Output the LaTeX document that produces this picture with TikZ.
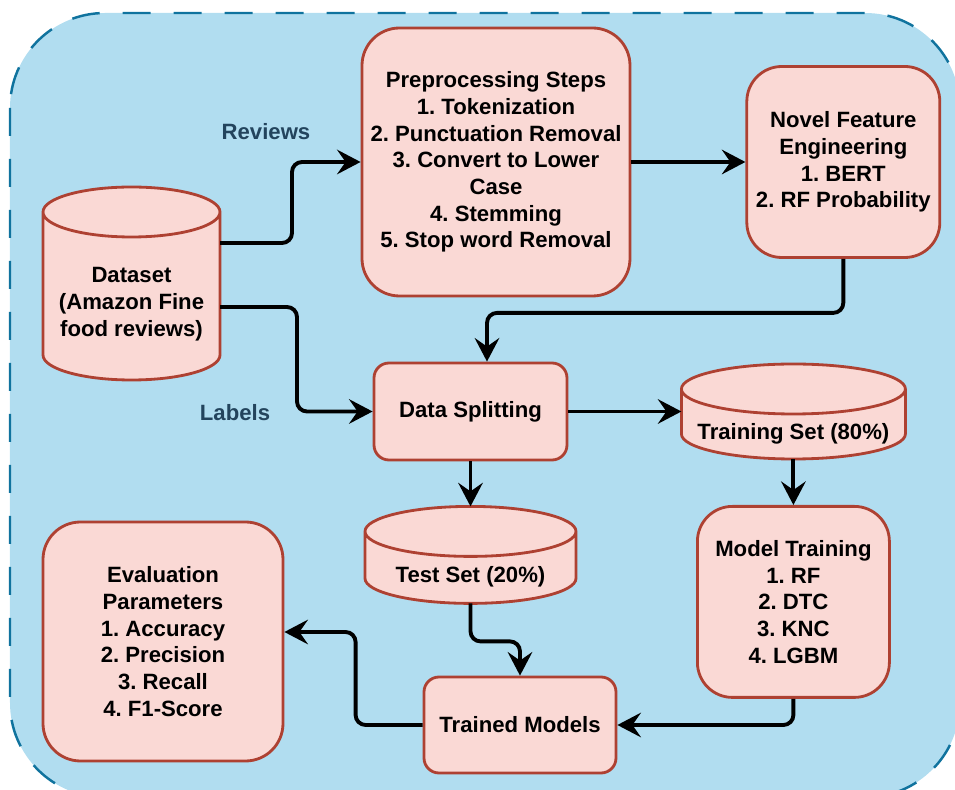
\documentclass[tikz,border=0pt]{standalone}
\usepackage{fontspec}
\setmainfont{Liberation Sans}
\frenchspacing
\usetikzlibrary{shapes.geometric, arrows.meta, positioning, calc, backgrounds}
\definecolor{boxfill}{HTML}{FAD9D5}
\definecolor{boxline}{HTML}{AE4132}
\definecolor{areafill}{HTML}{B1DDF0}
\definecolor{arealine}{HTML}{10739E}
\definecolor{tagtext}{HTML}{23445D}
\tikzstyle{box} = [rectangle, rounded corners=0.75cm, text centered, align=center, draw=boxline, fill=boxfill, line width=1.6pt, font=\bfseries\fontsize{12.6}{15.2}\selectfont]
\tikzstyle{smallbox} = [box, rounded corners=0.3cm]
\tikzstyle{db} = [rectangle, inner sep=0pt, outer sep=0pt]
\tikzstyle{dbline} = [draw=boxline, fill=boxfill, line width=1.6pt]
\tikzstyle{dbtext} = [font=\bfseries\fontsize{12.6}{15.2}\selectfont, align=center]
\tikzstyle{tag} = [text=tagtext, font=\bfseries\fontsize{12.6}{15.2}\selectfont]
\tikzstyle{arrow} = [line width=2.2pt, -{Stealth[length=0.47cm, width=0.49cm, inset=0.17cm]}, rounded corners=0.2cm]
% cilindro dibujado detras del nodo #1
\newcommand{\dbshape}[1]{%
    \path [dbline] let \p1 = ($(#1.east)-(#1.west)$) in
        ([yshift=-0.5cm]#1.north west) -- ([yshift=0.5cm]#1.south west)
        arc[start angle=180, end angle=360, x radius=0.5*\x1, y radius=0.5cm]
        -- ([yshift=-0.5cm]#1.north east)
        arc[start angle=0, end angle=180, x radius=0.5*\x1, y radius=0.5cm] -- cycle
        ([yshift=-0.5cm]#1.north west)
        arc[start angle=180, end angle=360, x radius=0.5*\x1, y radius=0.5cm];
}

\begin{document}
\begin{tikzpicture}
    \useasboundingbox (0,0) rectangle (19.1,-15.8);

    \node (dataset) [db, minimum width=3.54cm, minimum height=3.86cm,
        label={[dbtext, yshift=-0.41cm]center:Dataset\\(Amazon Fine\\food reviews)}] at (2.63,-5.67) {};
    \node (preproc) [box, minimum width=5.36cm, minimum height=5.36cm] at (9.92,-3.24)
        {Preprocessing Steps\\1. Tokenization\\2. Punctuation Removal\\3. Convert to Lower\\Case\\4. Stemming\\5. Stop word Removal};
    \node (novel) [box, right=2.28cm of preproc, minimum width=3.86cm, minimum height=3.82cm, rounded corners=0.7cm]
        {Novel Feature\\Engineering\\1. BERT\\2. RF Probability};
    \node (split) [smallbox, minimum width=3.86cm, minimum height=1.94cm] at (9.41,-8.23) {Data Splitting};
    \node (trainset) [db, right=2.26cm of split, minimum width=4.48cm, minimum height=1.9cm,
        label={[dbtext, yshift=-0.45cm]center:Training Set (80\%)}] {};
    \node (testset) [db, below=0.9cm of split, minimum width=4.22cm, minimum height=1.94cm,
        label={[dbtext, yshift=-0.43cm]center:Test Set (20\%)}] {};
    \node (modeltrain) [box, below=0.92cm of trainset, minimum width=3.84cm, minimum height=3.82cm, rounded corners=0.7cm]
        {Model Training\\1. RF\\2. DTC\\3. KNC\\4. LGBM};
    \node (trained) [smallbox, minimum width=3.84cm, minimum height=1.92cm] at (10.4,-14.5) {Trained Models};
    \node (eval) [box, minimum width=4.8cm, minimum height=4.78cm] at (3.26,-12.83)
        {Evaluation\\Parameters\\1. Accuracy\\2. Precision\\3. Recall\\4. F1-Score};
    % Etiquetas de los flujos
    \node (reviews) [tag] at (5.32,-2.64) {Reviews};
    \node (labels) [tag] at (4.7,-8.26) {Labels};

    \draw [arrow] ([yshift=0.81cm]dataset.east) -- ++(1.44,0) |- (preproc.west);
    \draw [arrow] ([yshift=-0.47cm]dataset.east) -- ++(1.54,0) |- (split.west);
    \draw [arrow] (preproc) -- (novel);
    \draw [arrow] (novel.south) -- ++(0,-1.08) -| ([xshift=0.33cm]split.north);
    \draw [arrow] (split) -- (trainset);
    \draw [arrow] (split) -- (testset);
    \draw [arrow] (trainset) -- (modeltrain);
    \draw [arrow] (testset.south) -- ++(0,-0.76) -| (trained.north);
    \draw [arrow] (modeltrain.south) |- (trained.east);
    \draw [arrow] (trained.west) -- ++(-1.34,0) |- ([yshift=0.19cm]eval.east);

    \begin{pgfonlayer}{background}
        \clip (0,0) rectangle (19.1,-15.8);
        % Fondo azul con borde discontinuo
        \draw [arealine, fill=areafill, line width=1.4pt, dash pattern=on 0.56cm off 0.46cm, rounded corners=1.9cm] (0.2,-0.26) rectangle (19.2,-15.95);
        \dbshape{dataset}
        \dbshape{trainset}
        \dbshape{testset}
    \end{pgfonlayer}
\end{tikzpicture}
\end{document}
